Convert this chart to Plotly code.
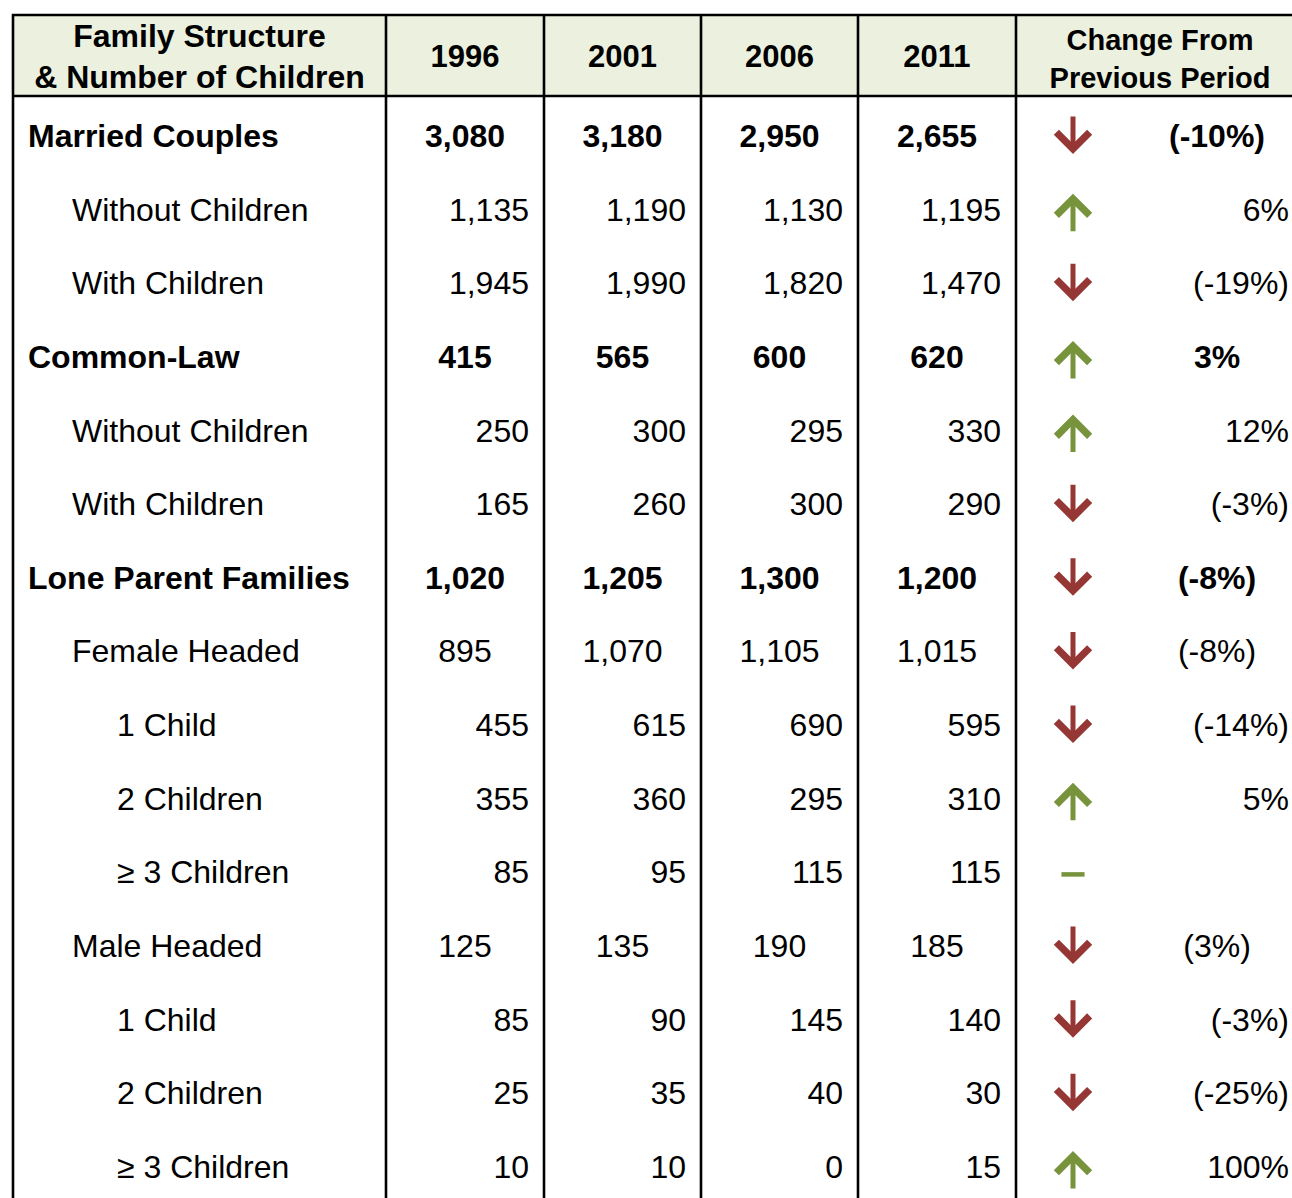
import plotly.graph_objects as go

# ---------------- data ----------------
header_label = "Family Structure<br>& Number of Children"
years = ["1996", "2001", "2006", "2011"]
change_header = "Change From<br>Previous Period"

labels = ["Married Couples", "Without Children", "With Children",
          "Common-Law", "Without Children", "With Children",
          "Lone Parent Families", "Female Headed", "1 Child", "2 Children",
          "≥ 3 Children", "Male Headed", "1 Child", "2 Children", "≥ 3 Children"]
levels = [0, 1, 1, 0, 1, 1, 0, 1, 2, 2, 2, 1, 2, 2, 2]
bold_rows = [True, False, False, True, False, False, True, False, False, False,
             False, False, False, False, False]
centered_rows = [True, False, False, True, False, False, True, True, False, False,
                 False, True, False, False, False]

v1996 = [3080, 1135, 1945, 415, 250, 165, 1020, 895, 455, 355, 85, 125, 85, 25, 10]
v2001 = [3180, 1190, 1990, 565, 300, 260, 1205, 1070, 615, 360, 95, 135, 90, 35, 10]
v2006 = [2950, 1130, 1820, 600, 295, 300, 1300, 1105, 690, 295, 115, 190, 145, 40, 0]
v2011 = [2655, 1195, 1470, 620, 330, 290, 1200, 1015, 595, 310, 115, 185, 140, 30, 15]
change_text = ["(-10%)", "6%", "(-19%)", "3%", "12%", "(-3%)", "(-8%)", "(-8%)",
               "(-14%)", "5%", "", "(3%)", "(-3%)", "(-25%)", "100%"]
trend = ["down", "up", "down", "up", "up", "down", "down", "down", "down", "up",
         "flat", "down", "down", "down", "up"]

# ---------------- layout constants ----------------
W, H = 1292, 1198
col_edges = [13, 386, 544, 701, 858, 1016, 1305]
top_y, head_bot = 15, 96
row0, row_h = 136, 73.64
indent = [28, 72, 117]
pad_r = 15
FONT = "Liberation Sans, Arial, sans-serif"
FS = 32
TXT_DY = 3
RED = "#953735"
GREEN = "#77933C"
HEAD_BG = "#EBF1DE"

rows_y = [row0 + i * row_h for i in range(len(labels))]
text_y = [y + TXT_DY for y in rows_y]

fig = go.Figure()

# header background and lines
fig.add_shape(type="rect", x0=col_edges[0], x1=col_edges[-1], y0=top_y, y1=head_bot,
              fillcolor=HEAD_BG, line_width=0, layer="below")
for yy in (top_y, head_bot):
    fig.add_shape(type="line", x0=col_edges[0] - 1, x1=col_edges[-1], y0=yy, y1=yy,
                  line=dict(color="black", width=2.6))
for xx in col_edges[:-1]:
    fig.add_shape(type="line", x0=xx, x1=xx, y0=top_y - 1, y1=H + 10,
                  line=dict(color="black", width=2.6))

head_y = (top_y + head_bot) / 2
# header texts
fig.add_trace(go.Scatter(
    x=[(col_edges[0] + col_edges[1]) / 2], y=[head_y + 4], mode="text",
    text=[f"<b>{header_label}</b>"], textposition="middle center",
    textfont=dict(family=FONT, size=FS, color="black"), hoverinfo="skip"))
fig.add_trace(go.Scatter(
    x=[(col_edges[i + 1] + col_edges[i + 2]) / 2 for i in range(4)],
    y=[head_y + 4] * 4, mode="text", text=[f"<b>{y}</b>" for y in years],
    textposition="middle center",
    textfont=dict(family=FONT, size=31, color="black"), hoverinfo="skip"))
fig.add_trace(go.Scatter(
    x=[1160], y=[head_y + 6], mode="text", text=[f"<b>{change_header}</b>"],
    textposition="middle center",
    textfont=dict(family=FONT, size=29, color="black"), hoverinfo="skip"))


def fmt(t, b):
    return f"<b>{t}</b>" if b else t


# row labels
fig.add_trace(go.Scatter(
    x=[indent[l] for l in levels], y=text_y, mode="text",
    text=[fmt(t, b) for t, b in zip(labels, bold_rows)],
    textposition="middle right",
    textfont=dict(family=FONT, size=FS, color="black"), hoverinfo="skip"))

# value columns
for ci, vals in enumerate([v1996, v2001, v2006, v2011]):
    left, right = col_edges[ci + 1], col_edges[ci + 2]
    xs = [(left + right) / 2 if c else right - pad_r for c in centered_rows]
    pos = ["middle center" if c else "middle left" for c in centered_rows]
    fig.add_trace(go.Scatter(
        x=xs, y=text_y, mode="text",
        text=[fmt(f"{v:,}", b) for v, b in zip(vals, bold_rows)],
        textposition=pos,
        textfont=dict(family=FONT, size=FS, color="black"), hoverinfo="skip"))

# change text
chg_center = 1217
chg_right = 1289
fig.add_trace(go.Scatter(
    x=[chg_center if c else chg_right for c in centered_rows], y=text_y, mode="text",
    text=[fmt(t, b) for t, b in zip(change_text, bold_rows)],
    textposition=["middle center" if c else "middle left" for c in centered_rows],
    textfont=dict(family=FONT, size=FS, color="black"), hoverinfo="skip",
    cliponaxis=False))

# trend arrows
arrow_x = 1073
for yy, tr in zip(rows_y, trend):
    if tr == "down":
        fig.add_annotation(x=arrow_x, y=yy + 18, ax=0, ay=-39, xref="x", yref="y",
                           text="", showarrow=True, arrowhead=4, arrowsize=1.28,
                           arrowwidth=5, arrowcolor=RED)
    elif tr == "up":
        fig.add_annotation(x=arrow_x, y=yy - 16, ax=0, ay=39, xref="x", yref="y",
                           text="", showarrow=True, arrowhead=4, arrowsize=1.28,
                           arrowwidth=5, arrowcolor=GREEN)

flat_y = [yy + 2 for yy, tr in zip(rows_y, trend) if tr == "flat"]
fig.add_trace(go.Scatter(
    x=[arrow_x] * len(flat_y), y=flat_y, mode="markers",
    marker=dict(symbol="line-ew", size=16.5, line=dict(color=GREEN, width=4.5)),
    hoverinfo="skip"))

fig.update_layout(
    width=W, height=H, margin=dict(l=0, r=0, t=0, b=0),
    paper_bgcolor="white", plot_bgcolor="white", showlegend=False,
    xaxis=dict(range=[0, W], visible=False, fixedrange=True),
    yaxis=dict(range=[H, 0], visible=False, fixedrange=True),
)

# remove the page's default body margin so the figure sits at the window origin
fig.write_html(
    "out.html",
    config={"displayModeBar": False},
    post_script="document.documentElement.style.overflow='hidden';"
                "document.body.style.margin='0';document.body.style.overflow='hidden';",
)
